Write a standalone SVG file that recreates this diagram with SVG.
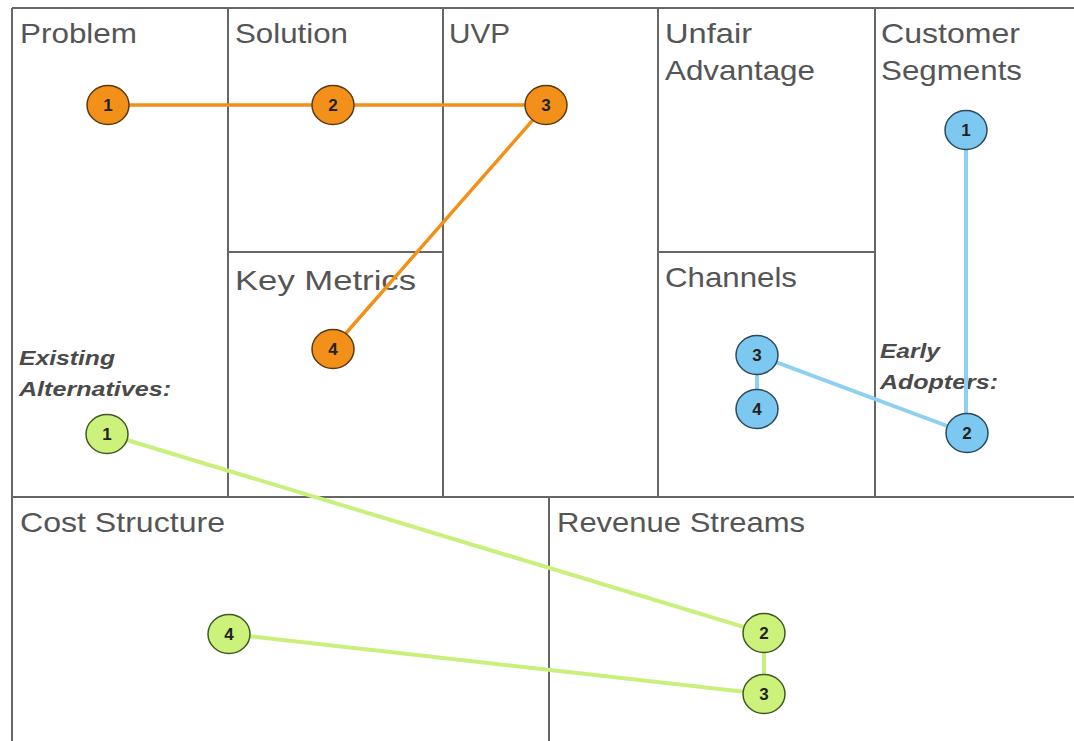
<svg xmlns="http://www.w3.org/2000/svg" width="1074" height="741" viewBox="0 0 1074 741">
<style>
.grid{stroke:#666;stroke-width:2;fill:none}
.h{font-family:"Liberation Sans",Arial,sans-serif;font-size:28px;fill:#555}
.sub{font-family:"Liberation Sans",Arial,sans-serif;font-size:20px;font-weight:bold;font-style:italic;fill:#4a4a4a}
.num{font-family:"Liberation Sans",Arial,sans-serif;font-size:17px;font-weight:bold;fill:#222;text-anchor:middle}
.o{fill:#F39019;stroke:#5a3a12;stroke-width:1.5}
.b{fill:#7DC8F0;stroke:#2c4a5c;stroke-width:1.5}
.g{fill:#CDF27C;stroke:#3e5a22;stroke-width:1.5}
.lo{stroke:#F39019;stroke-width:3.5;fill:none}
.lb{stroke:#8DD0F2;stroke-width:4;fill:none}
.lg{stroke:#C9F07A;stroke-width:4;fill:none}
</style>
<rect width="1074" height="741" fill="#fff"/>
<g id="grid">
<path class="grid" d="M12 8H1074M12 8V741M228 8V497M443 8V497M658 8V497M875 8V497M228 252H443M658 252H875M12 497H1074M549 497V741"/>
</g>
<g id="labels">
<text class="h" x="20" y="43" textLength="117" lengthAdjust="spacingAndGlyphs">Problem</text>
<text class="h" x="235" y="43" textLength="113" lengthAdjust="spacingAndGlyphs">Solution</text>
<text class="h" x="449" y="43" textLength="61" lengthAdjust="spacingAndGlyphs">UVP</text>
<text class="h" x="665" y="43" textLength="87" lengthAdjust="spacingAndGlyphs">Unfair</text>
<text class="h" x="665" y="80" textLength="150" lengthAdjust="spacingAndGlyphs">Advantage</text>
<text class="h" x="881" y="43" textLength="139" lengthAdjust="spacingAndGlyphs">Customer</text>
<text class="h" x="881" y="80" textLength="141" lengthAdjust="spacingAndGlyphs">Segments</text>
<text class="h" x="235" y="290" font-size="30" textLength="181" lengthAdjust="spacingAndGlyphs">Key Metrics</text>
<text class="h" x="665" y="287" textLength="132" lengthAdjust="spacingAndGlyphs">Channels</text>
<text class="h" x="20" y="532" textLength="205" lengthAdjust="spacingAndGlyphs">Cost Structure</text>
<text class="h" x="557" y="532" textLength="248" lengthAdjust="spacingAndGlyphs">Revenue Streams</text>
<text class="sub" x="19" y="365" textLength="96" lengthAdjust="spacingAndGlyphs">Existing</text>
<text class="sub" x="19" y="396" textLength="152" lengthAdjust="spacingAndGlyphs">Alternatives:</text>
<text class="sub" x="880" y="358" textLength="60" lengthAdjust="spacingAndGlyphs">Early</text>
<text class="sub" x="880" y="389" textLength="118" lengthAdjust="spacingAndGlyphs">Adopters:</text>
</g>
<g id="connectors">
<path class="lo" d="M108 105H546L333 348"/>
<path class="lb" d="M966 130V433M757 355L966 433M757 355V408"/>
<path class="lg" d="M107 434L764 633V694L229 634"/>
</g>
<g id="orange-1"><ellipse class="o" cx="108" cy="105" rx="21" ry="19.5"/><text class="num" x="108" y="111">1</text></g>
<g id="orange-2"><ellipse class="o" cx="333" cy="105" rx="21" ry="19.5"/><text class="num" x="333" y="111">2</text></g>
<g id="orange-3"><ellipse class="o" cx="546" cy="105" rx="21" ry="19.5"/><text class="num" x="546" y="111">3</text></g>
<g id="orange-4"><ellipse class="o" cx="333" cy="349" rx="21" ry="19.5"/><text class="num" x="333" y="355">4</text></g>
<g id="blue-1"><ellipse class="b" cx="966" cy="130" rx="21" ry="19.5"/><text class="num" x="966" y="136">1</text></g>
<g id="blue-2"><ellipse class="b" cx="967" cy="433" rx="21" ry="19.5"/><text class="num" x="967" y="439">2</text></g>
<g id="blue-3"><ellipse class="b" cx="757" cy="355" rx="21" ry="19.5"/><text class="num" x="757" y="361">3</text></g>
<g id="blue-4"><ellipse class="b" cx="757" cy="409" rx="21" ry="19.5"/><text class="num" x="757" y="415">4</text></g>
<g id="green-1"><ellipse class="g" cx="107" cy="434" rx="21" ry="19.5"/><text class="num" x="107" y="440">1</text></g>
<g id="green-2"><ellipse class="g" cx="764" cy="633" rx="21" ry="19.5"/><text class="num" x="764" y="639">2</text></g>
<g id="green-3"><ellipse class="g" cx="764" cy="694" rx="21" ry="19.5"/><text class="num" x="764" y="700">3</text></g>
<g id="green-4"><ellipse class="g" cx="229" cy="634" rx="21" ry="19.5"/><text class="num" x="229" y="640">4</text></g>
</svg>
